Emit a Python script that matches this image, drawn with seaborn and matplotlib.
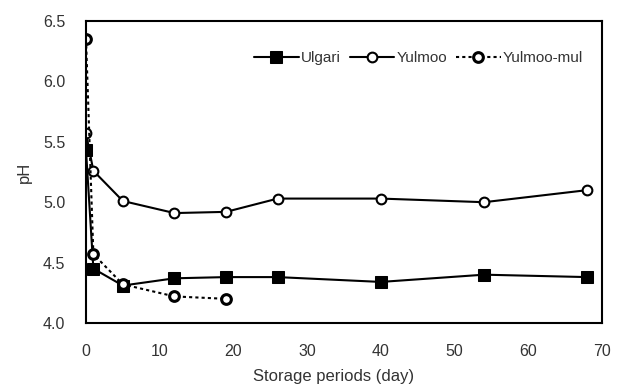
import matplotlib
matplotlib.use("Agg")
import matplotlib.pyplot as plt
import seaborn as sns
import pandas as pd

days_ulgari = [0, 1, 5, 12, 19, 26, 40, 54, 68]
ph_ulgari = [5.43, 4.45, 4.31, 4.37, 4.38, 4.38, 4.34, 4.40, 4.38]
days_yulmoo = [0, 1, 5, 12, 19, 26, 40, 54, 68]
ph_yulmoo = [5.57, 5.26, 5.01, 4.91, 4.92, 5.03, 5.03, 5.00, 5.10]
days_mul = [0, 1, 5, 12, 19]
ph_mul = [6.35, 4.57, 4.32, 4.22, 4.20]
x_ticks = [0, 10, 20, 30, 40, 50, 60, 70]
y_ticks = [4.0, 4.5, 5.0, 5.5, 6.0, 6.5]

sns.set_style("white")
plt.rcParams['font.family'] = ['Liberation Sans', 'DejaVu Sans']

fig = plt.figure(figsize=(6.21, 3.89), dpi=100)
ax = fig.add_axes([86/621, 66/389, 516/621, 302/389])

df_u = pd.DataFrame({"day": days_ulgari, "ph": ph_ulgari})
df_y = pd.DataFrame({"day": days_yulmoo, "ph": ph_yulmoo})
df_m = pd.DataFrame({"day": days_mul, "ph": ph_mul})

sns.lineplot(data=df_u, x="day", y="ph", ax=ax, color="black", lw=1.5,
             marker="s", markersize=8, markerfacecolor="black",
             markeredgecolor="black", label="Ulgari")
sns.lineplot(data=df_y, x="day", y="ph", ax=ax, color="black", lw=1.5,
             marker="o", markersize=7, markerfacecolor="white",
             markeredgecolor="black", markeredgewidth=1.5, label="Yulmoo")
sns.lineplot(data=df_m, x="day", y="ph", ax=ax, color="black", lw=1.5,
             linestyle=(0, (1.5, 1.5)), marker="o", markersize=7,
             markerfacecolor="white", markeredgecolor="black",
             markeredgewidth=2.2, label="Yulmoo-mul")

ax.set_xlim(0, 70)
ax.set_ylim(4.0, 6.5)
ax.set_xticks(x_ticks)
ax.set_yticks(y_ticks)
ax.set_yticklabels([f"{v:.1f}" for v in y_ticks])
ax.tick_params(direction="in", length=6, width=1.2, colors="black",
               labelcolor="#333333", labelsize=11.5)
ax.tick_params(axis="x", pad=15)
ax.tick_params(axis="y", pad=15)
for s in ax.spines.values():
    s.set_color("black")
    s.set_linewidth(1.5)
ax.set_xlabel("Storage periods (day)", fontsize=12, color="#333333")
ax.set_ylabel("pH", fontsize=12, color="#333333")
ax.xaxis.set_label_coords(0.48, -0.152)
ax.yaxis.set_label_coords(-0.105, 0.5)

leg = ax.legend(loc="upper right", ncol=3, frameon=False, fontsize=11,
                handlelength=2.9, handletextpad=0.15, columnspacing=0.6,
                bbox_to_anchor=(0.99, 0.945))
for t in leg.get_texts():
    t.set_color("#333333")

fig.savefig("out.png", dpi=100)
